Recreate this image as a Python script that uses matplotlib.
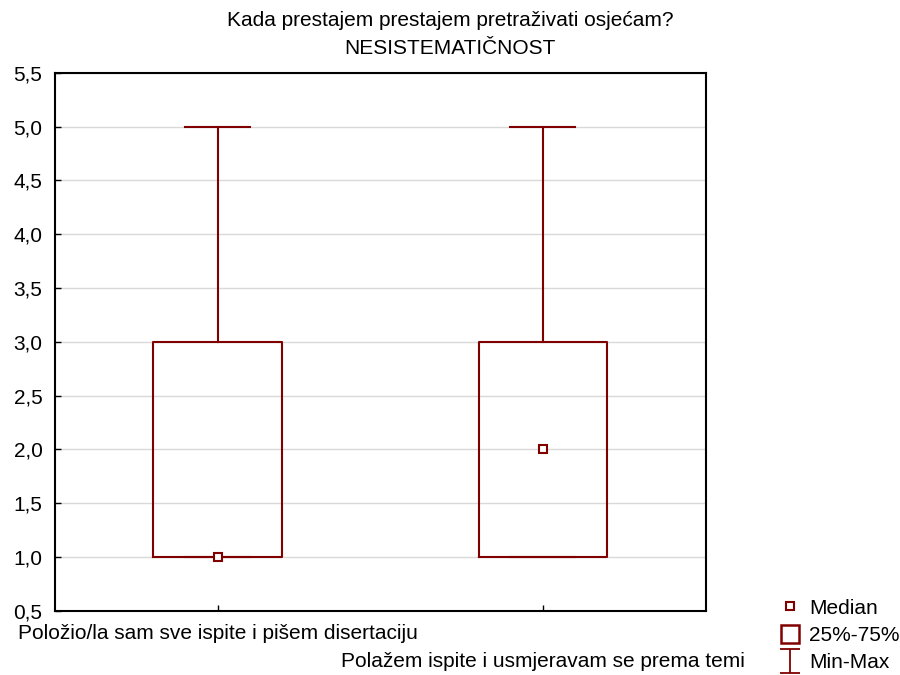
import matplotlib.pyplot as plt
from matplotlib.path import Path
from matplotlib.lines import Line2D

plt.rcParams['font.family'] = ['Liberation Sans', 'DejaVu Sans']

# data
groups = ['Položio/la sam sve ispite i pišem disertaciju',
          'Polažem ispite i usmjeravam se prema temi']
medians = [1.0, 2.0]
q1 = [1.0, 1.0]
q3 = [3.0, 3.0]
mins = [1.0, 1.0]
maxs = [5.0, 5.0]

col = '#800000'
fs = 15

fig = plt.figure(figsize=(9, 6.75), dpi=100)
ax = fig.add_axes([0.061, 0.095, 0.723, 0.797])

stats = []
for i in range(len(groups)):
    stats.append({'med': medians[i], 'q1': q1[i], 'q3': q3[i],
                  'whislo': mins[i], 'whishi': maxs[i], 'label': groups[i]})

pos = list(range(len(groups)))
ax.bxp(stats, positions=pos, widths=0.396, capwidths=0.2, showfliers=False,
       boxprops=dict(color=col, linewidth=1.5),
       whiskerprops=dict(color=col, linewidth=1.5),
       capprops=dict(color=col, linewidth=1.5),
       medianprops=dict(linestyle='none'))
ax.plot(pos, medians, linestyle='none', marker='s', markersize=6,
        markerfacecolor='white', markeredgecolor=col, markeredgewidth=1.5, zorder=5)

ax.set_xlim(-0.5, 1.5)
ax.set_ylim(0.5, 5.5)
yt = [0.5 + 0.5 * k for k in range(11)]
ax.set_yticks(yt)
ax.set_yticklabels([f'{v:.1f}'.replace('.', ',') for v in yt], fontsize=fs)
ax.yaxis.grid(True, color='#d9d9d9', linewidth=1)
ax.set_axisbelow(True)
ax.tick_params(direction='in', length=4, width=1, color='black', pad=9)
ax.set_xticks(pos)
ax.set_xticklabels([])
for s in ax.spines.values():
    s.set_linewidth(1.5)

# staggered category labels
offs = [-0.024, -0.076]
for i, g in enumerate(groups):
    ax.text(pos[i], offs[i], g, transform=ax.get_xaxis_transform(),
            ha='center', va='top', fontsize=fs)

fig.text(0.5, 0.984, 'Kada prestajem prestajem pretraživati osjećam?\nNESISTEMATIČNOST',
         ha='center', va='top', fontsize=fs, linespacing=1.6)

# legend
ibeam = Path([(-0.85, 1), (0.85, 1), (0, 1), (0, -1), (-0.85, -1), (0.85, -1)],
             [Path.MOVETO, Path.LINETO, Path.MOVETO, Path.LINETO, Path.MOVETO, Path.LINETO])
handles = [
    Line2D([], [], linestyle='none', marker='s', markersize=6, markerfacecolor='white',
           markeredgecolor=col, markeredgewidth=1.5),
    Line2D([], [], linestyle='none', marker='s', markersize=13, markerfacecolor='white',
           markeredgecolor=col, markeredgewidth=1.8),
    Line2D([], [], linestyle='none', marker=ibeam, markersize=17, markerfacecolor='none',
           markeredgecolor=col, markeredgewidth=1.3),
]
fig.legend(handles, ['Median', '25%-75%', 'Min-Max'], loc='lower left',
           bbox_to_anchor=(0.845, -0.024), frameon=False, fontsize=fs,
           handlelength=1.0, handletextpad=0.45, labelspacing=0.4)

fig.savefig('out.png', dpi=100)
